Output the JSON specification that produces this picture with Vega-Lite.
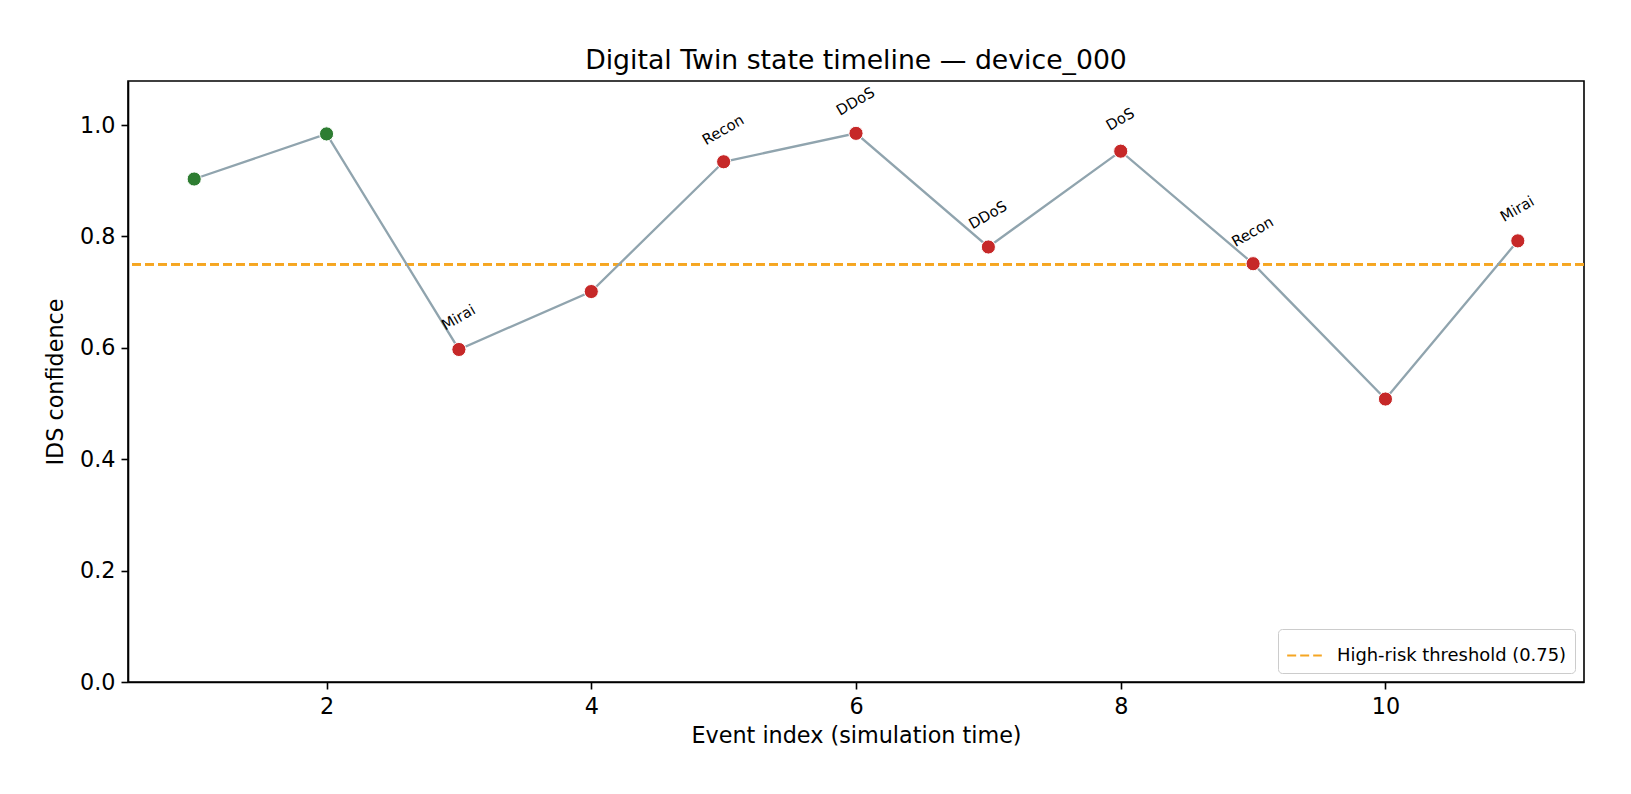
{
  "$schema": "https://vega.github.io/schema/vega-lite/v6.json",
  "width": 1456,
  "height": 601,
  "autosize": {"type": "none"},
  "padding": {"left": 128, "top": 81, "right": 47, "bottom": 112},
  "background": "white",
  "title": {
    "text": "Digital Twin state timeline — device_000",
    "font": "DejaVu Sans",
    "fontSize": 26.7,
    "fontWeight": "normal",
    "color": "#000",
    "anchor": "middle",
    "baseline": "bottom",
    "offset": 8,
    "dy": 29
  },
  "data": {
    "values": [
      {"step": 1, "confidence": 0.903, "state": "benign", "attack": null},
      {"step": 2, "confidence": 0.984, "state": "benign", "attack": null},
      {"step": 3, "confidence": 0.597, "state": "attack", "attack": "Mirai"},
      {"step": 4, "confidence": 0.701, "state": "attack", "attack": null},
      {"step": 5, "confidence": 0.934, "state": "attack", "attack": "Recon"},
      {"step": 6, "confidence": 0.985, "state": "attack", "attack": "DDoS"},
      {"step": 7, "confidence": 0.781, "state": "attack", "attack": "DDoS"},
      {"step": 8, "confidence": 0.953, "state": "attack", "attack": "DoS"},
      {"step": 9, "confidence": 0.751, "state": "attack", "attack": "Recon"},
      {"step": 10, "confidence": 0.508, "state": "attack", "attack": null},
      {"step": 11, "confidence": 0.792, "state": "attack", "attack": "Mirai"}
    ]
  },
  "encoding": {
    "x": {
      "field": "step",
      "type": "quantitative",
      "title": "Event index (simulation time)",
      "scale": {"domain": [0.5, 11.5], "nice": false, "zero": false},
      "axis": {"values": [2, 4, 6, 8, 10], "format": "d"}
    },
    "y": {
      "field": "confidence",
      "type": "quantitative",
      "title": "IDS confidence",
      "scale": {"domain": [0, 1.079], "nice": false},
      "axis": {"values": [0, 0.2, 0.4, 0.6, 0.8, 1.0], "format": ".1f"}
    }
  },
  "layer": [
    {
      "mark": {"type": "rule", "strokeWidth": 2, "strokeDash": [9, 4]},
      "encoding": {
        "x": null,
        "y": {"datum": 0.75, "type": "quantitative"},
        "stroke": {
          "datum": "High-risk threshold (0.75)",
          "type": "nominal",
          "scale": {"range": ["#f5a623"]},
          "legend": {
            "title": null,
            "orient": "bottom-right",
            "offset": 9,
            "fillColor": "white",
            "strokeColor": "#cccccc",
            "cornerRadius": 4,
            "padding": 8,
            "labelFont": "DejaVu Sans",
            "labelFontSize": 17.9,
            "labelColor": "#000",
            "labelLimit": 0,
            "labelOffset": 14,
            "symbolType": "stroke",
            "symbolSize": 1200,
            "symbolStrokeWidth": 2,
            "symbolDash": [9, 4],
            "symbolStrokeColor": "#f5a623"
          }
        }
      }
    },
    {
      "mark": {"type": "line", "color": "#90a4ae", "strokeWidth": 2.3}
    },
    {
      "mark": {"type": "circle", "size": 200, "opacity": 1, "stroke": "white", "strokeWidth": 1},
      "encoding": {
        "fill": {
          "field": "state",
          "type": "nominal",
          "scale": {"domain": ["benign", "attack"], "range": ["#2e7d32", "#c62828"]},
          "legend": null
        }
      }
    },
    {
      "transform": [{"filter": "datum.attack != null"}],
      "mark": {
        "type": "text",
        "font": "DejaVu Sans",
        "fontSize": 14.8,
        "color": "#000",
        "angle": -30,
        "align": "center",
        "baseline": "middle",
        "dx": 15.5,
        "dy": -27
      },
      "encoding": {"text": {"field": "attack", "type": "nominal"}}
    }
  ],
  "config": {
    "view": {"stroke": "#000", "strokeWidth": 1.6},
    "axis": {
      "grid": false,
      "domainColor": "#000",
      "domainWidth": 1.6,
      "tickColor": "#000",
      "tickWidth": 1.6,
      "tickSize": 7,
      "labelFont": "DejaVu Sans",
      "labelFontSize": 22.3,
      "labelColor": "#000",
      "labelPadding": 6,
      "titleFont": "DejaVu Sans",
      "titleFontSize": 22.3,
      "titleFontWeight": "normal",
      "titleColor": "#000"
    },
    "axisX": {"titlePadding": 7},
    "axisY": {"titlePadding": 12}
  }
}
